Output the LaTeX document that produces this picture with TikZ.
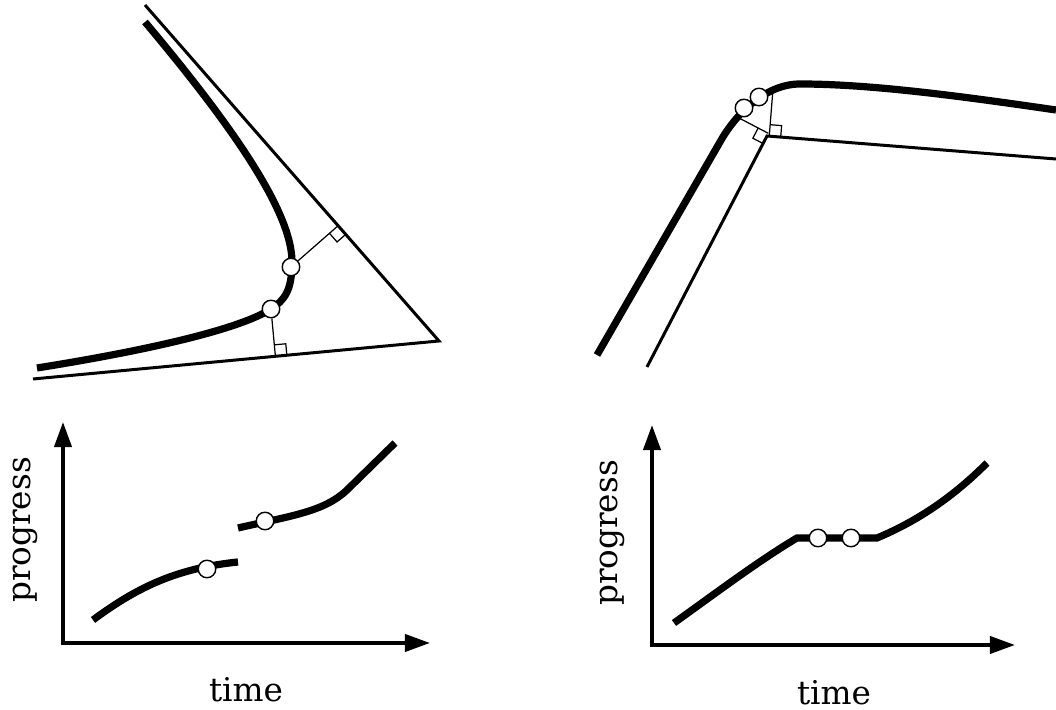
\documentclass[tikz,border=0pt]{standalone}
\usepackage{fontspec}
\setmainfont{DejaVu Serif}
\usetikzlibrary{arrows.meta, calc, positioning}

% right-angle mark: foot, point, direction along the line
\newcommand{\perpbox}[3]{%
  \draw[perp] let \p1=($(#1)!0.115cm!(#2)$), \p2=($(#1)!0.115cm!(#3)$), \p3=(#1)
    in (\p1) -- (\x1+\x2-\x3,\y1+\y2-\y3) -- (\p2);}

\begin{document}
\begin{tikzpicture}[
    x=0.01cm, y=-0.01cm,
    curve/.style={line width=2.05pt},
    ref/.style={line width=0.85pt},
    perp/.style={line width=0.35pt},
    dot/.style={circle, draw, fill=white, line width=0.4pt, inner sep=0pt, minimum size=0.175cm},
    axis/.style={line width=1.1pt, {Triangle[length=0.25cm, width=0.17cm]}-{Triangle[length=0.25cm, width=0.17cm]}},
    lbl/.style={font=\fontsize{9.3}{11}\selectfont, inner sep=0pt}
]
\useasboundingbox (0,0) rectangle (1056,710);

% top left: corner
\coordinate (ua) at (145,5);
\coordinate (apex) at (439,341);
\coordinate (la) at (33,379);
\draw[ref] (ua) -- (apex) -- (la);
\draw[curve] (145,22) .. controls (240,135) and (292,215) .. (292,262)
  .. controls (292,290) and (285,300) .. (271,309)
  .. controls (240,329) and (150,350) .. (37,368);
\node[dot] (p1) at (291,267) {};
\node[dot] (p2) at (271,309) {};
\coordinate (f1) at ($(ua)!(p1)!(apex)$);
\coordinate (f2) at ($(la)!(p2)!(apex)$);
\draw[perp] (p1) -- (f1);
\draw[perp] (p2) -- (f2);
\perpbox{f1}{p1}{apex}
\perpbox{f2}{p2}{apex}

% top right: corner
\coordinate (rb) at (647,367);
\coordinate (corner) at (767,136);
\coordinate (re) at (1056,159);
\draw[ref] (rb) -- (corner) -- (re);
\coordinate (q1) at (737,117);
\coordinate (q2) at (773,89);
\coordinate (g1) at ($(rb)!(q1)!(corner)$);
\coordinate (g2) at ($(corner)!(q2)!(re)$);
\draw[perp] (q1) -- (g1);
\draw[perp] (q2) -- (g2);
\perpbox{g1}{q1}{rb}
\perpbox{g2}{q2}{re}
\draw[curve] (597,355) -- (720,142) .. controls (735,115) and (765,84) .. (800,84)
  .. controls (870,84) and (960,96) .. (1056,110);
\node[dot] (q1c) at (744,108) {};
\node[dot] (q2c) at (759,97) {};

% bottom left: progress plot
\coordinate (lo) at (63,643);
\coordinate (ly) at (63,422);
\coordinate (lx) at (430,643);
\draw[axis] (ly) -- (lo) -- (lx);
\draw[curve] (93,620) .. controls (140,585) and (180,568) .. (238,562);
\draw[curve] (238,528) .. controls (290,516) and (324,512) .. (347,490) -- (395,443);
\node[dot] (c1) at (207,569) {};
\node[dot] (c2) at (265,521) {};
\node[lbl] (ltime) at (246,690) {time};
\node[lbl, rotate=90] (lprog) at (25,530) {progress};

% bottom right: progress plot
\coordinate (ro) at (652,645);
\coordinate (ry) at (652,425);
\coordinate (rx) at (1015,645);
\draw[axis] (ry) -- (ro) -- (rx);
\draw[curve] (674,623) .. controls (720,590) and (760,560) .. (797,538) -- (877,538) .. controls (920,520) and (955,495) .. (987,463);
\node[dot] (d1) at (818,538) {};
\node[dot] (d2) at (851,538) {};
\node[lbl] (rtime) at (834,693) {time};
\node[lbl, rotate=90] (rprog) at (612,533) {progress};
\end{tikzpicture}
\end{document}
